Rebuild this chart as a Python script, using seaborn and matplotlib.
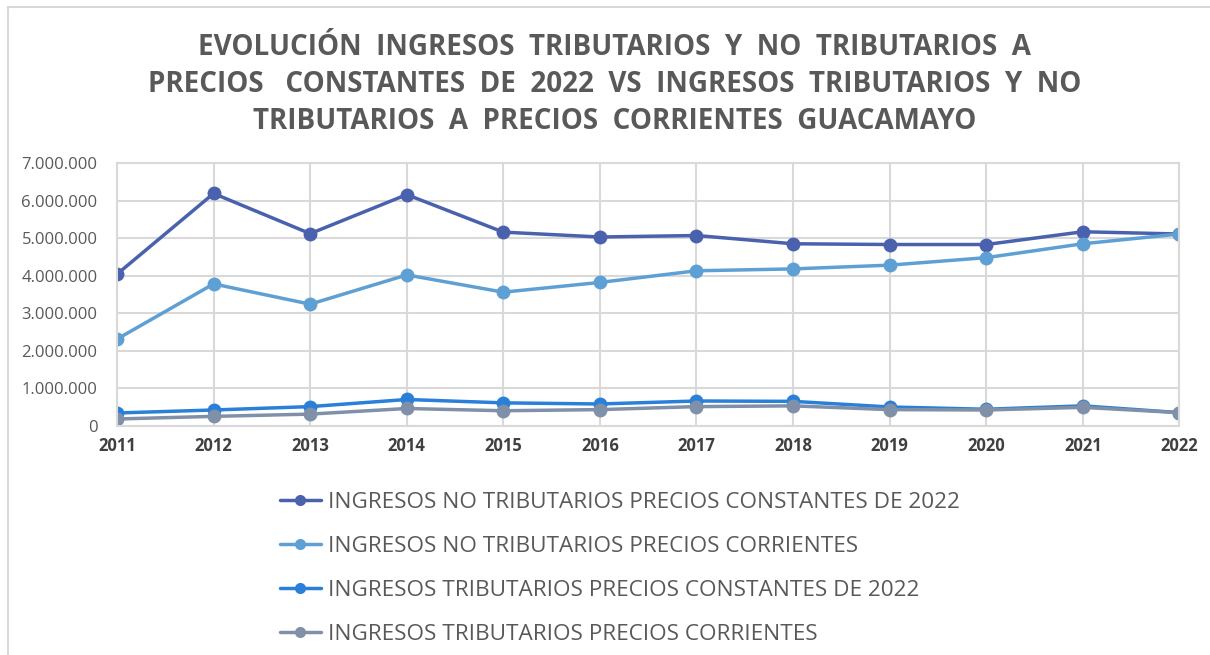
import matplotlib
matplotlib.use("Agg")
import matplotlib.pyplot as plt
import matplotlib.ticker as mticker
from matplotlib.patches import Rectangle
import seaborn as sns
import pandas as pd

# Datos (pesos)
YEARS = [2011, 2012, 2013, 2014, 2015, 2016, 2017, 2018, 2019, 2020, 2021, 2022]

NT_CONSTANTES = [4040000, 6190000, 5120000, 6160000, 5160000, 5030000,
                 5070000, 4850000, 4830000, 4830000, 5170000, 5110000]
NT_CORRIENTES = [2310000, 3780000, 3240000, 4020000, 3560000, 3820000,
                 4130000, 4180000, 4280000, 4480000, 4850000, 5110000]
T_CONSTANTES = [340000, 420000, 510000, 700000, 610000, 580000,
                660000, 650000, 500000, 440000, 530000, 350000]
T_CORRIENTES = [180000, 250000, 310000, 460000, 400000, 430000,
                510000, 530000, 430000, 420000, 490000, 350000]

SERIES = [
    "INGRESOS NO TRIBUTARIOS PRECIOS CONSTANTES DE 2022",
    "INGRESOS NO TRIBUTARIOS PRECIOS CORRIENTES",
    "INGRESOS TRIBUTARIOS PRECIOS CONSTANTES DE 2022",
    "INGRESOS TRIBUTARIOS PRECIOS CORRIENTES",
]
COLORS = ["#4A62AD", "#5FA0D4", "#2A80D8", "#8090A8"]

TITLE = ("EVOLUCIÓN  INGRESOS  TRIBUTARIOS  Y  NO  TRIBUTARIOS  A\n"
         "PRECIOS   CONSTANTES  DE  2022  VS  INGRESOS  TRIBUTARIOS  Y  NO\n"
         "TRIBUTARIOS  A  PRECIOS  CORRIENTES  GUACAMAYO")


def build_df():
    frames = []
    for name, vals in zip(SERIES, [NT_CONSTANTES, NT_CORRIENTES, T_CONSTANTES, T_CORRIENTES]):
        frames.append(pd.DataFrame({"anio": YEARS, "valor": vals, "serie": name}))
    return pd.concat(frames, ignore_index=True)


def miles(x, pos):
    return f"{int(x):,}".replace(",", ".")


df = build_df()

sns.set_style("white")
plt.rcParams["font.family"] = ["Open Sans", "DejaVu Sans"]

fig = plt.figure(figsize=(12.1, 6.55), dpi=100)
ax = fig.add_axes([0.0967, 0.350, 0.878, 0.401])

sns.lineplot(data=df, x="anio", y="valor", hue="serie", hue_order=SERIES,
             palette=dict(zip(SERIES, COLORS)), marker="o", markersize=10,
             markeredgewidth=0, linewidth=2.5, ax=ax, legend=False)

ax.set_xlim(2011, 2022)
ax.set_ylim(0, 7000000)
ax.set_xticks(YEARS)
ax.set_yticks(range(0, 7000001, 1000000))
ax.yaxis.set_major_formatter(mticker.FuncFormatter(miles))
ax.grid(True, color="#D9D9D9", linewidth=1.5)
ax.set_axisbelow(True)
for s in ax.spines.values():
    s.set_color("#D9D9D9")
    s.set_linewidth(1.5)
ax.set_xlabel("")
ax.set_ylabel("")
ax.tick_params(axis="y", labelsize=12, labelcolor="#595959", length=0, pad=14)
ax.tick_params(axis="x", labelsize=12, labelcolor="#404040", length=0, pad=8)
for lab in ax.get_xticklabels():
    lab.set_fontweight("bold")

fig.text(0.508, 0.871, TITLE, ha="center", va="center", fontsize=20,
         fontweight="bold", color="#595959", linespacing=1.38)

# Leyenda manual
handles = [plt.Line2D([0], [0], color=c, marker="o", markersize=8,
                      markeredgewidth=0, linewidth=2.5) for c in COLORS]
fig.legend(handles, SERIES, loc="upper left", bbox_to_anchor=(0.224, 0.263),
           frameon=False, handlelength=1.8, handletextpad=0.35,
           labelspacing=1.02, borderaxespad=0,
           prop={"family": ["Open Sans"], "size": 16.2},
           labelcolor="#595959")

fig.patches.append(Rectangle((0.007, -0.01), 1.0, 1.0, transform=fig.transFigure,
                             fill=False, edgecolor="#D9D9D9", linewidth=1.5))

fig.savefig("out.png", dpi=100)
